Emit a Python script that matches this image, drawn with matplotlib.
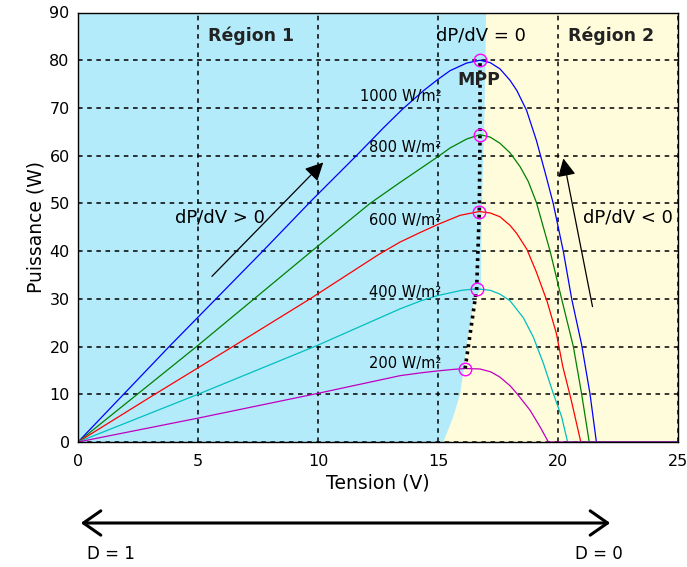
import matplotlib
matplotlib.use('Agg')
import matplotlib.pyplot as plt

# Courbes P(V) (V en volts, P en watts)
v_1000 = [0, 1.9, 3.8, 5.75, 7.7, 9.75, 11.6, 12.72, 13.49, 14.39, 15.0, 15.5, 16.19, 16.75, 17.17, 17.58, 18.0, 18.28, 18.69, 19.1, 19.51, 19.8, 20.22, 20.57, 20.98, 21.33, 21.6, 25]
p_1000 = [0, 10, 20, 30, 40, 50.7, 60, 65.8, 69.6, 73.6, 76.0, 77.8, 79.4, 80, 79.5, 78.2, 75.8, 73.7, 69.5, 63.2, 55.6, 50, 40, 30, 20.5, 10.2, 0, 0]

v_800 = [0, 4.94, 9.74, 12.17, 13.42, 14.3, 15.0, 15.5, 16.2, 16.75, 17.17, 17.58, 18.0, 18.42, 18.76, 19.1, 19.67, 20.15, 20.64, 20.98, 21.3, 25]
p_800 = [0, 20, 40, 50.0, 54.4, 57.4, 59.8, 61.6, 63.5, 64.4, 63.9, 62.6, 60.6, 57.7, 54.6, 50.2, 40, 30, 20, 10.2, 0, 0]

v_600 = [0, 3.2, 6.45, 9.67, 12.5, 13.42, 14.3, 15.0, 15.92, 16.72, 17.17, 17.58, 18.0, 18.28, 18.7, 19.1, 19.55, 19.93, 20.2, 20.55, 20.95, 25]
p_600 = [0, 10, 20, 30, 39.2, 41.9, 44.0, 45.6, 47.5, 48.3, 48.0, 47.2, 45.4, 43.7, 40.4, 35.6, 29.4, 22.8, 15.8, 8.8, 0, 0]

v_400 = [0, 5, 10, 13.42, 14.3, 15.0, 16.0, 16.61, 17.17, 17.58, 18.0, 18.56, 18.97, 19.39, 19.8, 20.15, 20.4, 25]
p_400 = [0, 10, 20.3, 27.9, 29.6, 30.7, 31.8, 32.1, 31.8, 31.0, 29.6, 26.0, 22.0, 16.5, 10.2, 5.3, 0, 0]

v_200 = [0, 5, 10, 13.42, 14.3, 15.0, 15.6, 16.13, 16.75, 17.2, 17.58, 18.0, 18.28, 18.83, 19.25, 19.6, 25]
p_200 = [0, 5, 10.2, 13.9, 14.5, 14.9, 15.2, 15.4, 15.3, 14.7, 13.6, 11.8, 10.2, 6.7, 3.2, 0, 0]

# Points de puissance maximale
mpp_v = [16.13, 16.61, 16.72, 16.75, 16.75]
mpp_p = [15.4, 32.1, 48.3, 64.4, 80]

# Frontiere de la zone bleue (region 1)
zone_v = [0, 0, 17.0, 16.98, 16.92, 16.82, 16.79, 16.5, 16.19, 16.08, 15.92, 15.64, 15.22]
zone_p = [0, 90, 90, 80, 64.4, 48, 32, 29.7, 20.3, 15.4, 10, 5.3, 0]

labels = ['1000 W/m²', '800 W/m²', '600 W/m²', '400 W/m²', '200 W/m²']
label_p = [72.5, 61.8, 46.5, 31.4, 16.5]

courbes = [(v_1000, p_1000, 'blue'), (v_800, p_800, 'green'), (v_600, p_600, 'red'),
           (v_400, p_400, (0, 0.75, 0.75)), (v_200, p_200, (0.75, 0, 0.75))]

plt.rcParams['font.family'] = 'DejaVu Sans'

fig = plt.figure(figsize=(6.87, 5.67), dpi=100)
ax = fig.add_axes([78 / 687, 1 - 442 / 567, 600 / 687, 429.5 / 567])

ax.set_facecolor('#FFFCDC')
ax.fill(zone_v, zone_p, color='#B4EBFA', lw=0, zorder=0)

for v, p, c in courbes:
    ax.plot(v, p, color=c, lw=0.9, zorder=2)

ax.plot(mpp_v, mpp_p, color='k', linestyle=(0, (0.8, 1.2)), lw=2.6, zorder=3)
ax.plot(mpp_v, mpp_p, 'o', mfc='none', mec='#FF00FF', ms=9, mew=1.0, zorder=4)

for lab, y in zip(labels, label_p):
    ax.text(15.15, y, lab, ha='right', va='center', fontsize=10.5)

ax.text(7.2, 85.2, 'Région 1', ha='center', va='center', fontsize=12.5, fontweight='bold', color='#222222')
ax.text(22.2, 85.2, 'Région 2', ha='center', va='center', fontsize=12.5, fontweight='bold', color='#222222')
ax.text(16.8, 85.2, 'dP/dV = 0', ha='center', va='center', fontsize=13)
ax.text(16.7, 75.8, 'MPP', ha='center', va='center', fontsize=12.5, fontweight='bold', color='#222222')
ax.text(5.9, 47.1, 'dP/dV > 0', ha='center', va='center', fontsize=13)
ax.text(22.9, 47.1, 'dP/dV < 0', ha='center', va='center', fontsize=13)

ax.annotate('', xy=(10.3, 59), xytext=(5.5, 34.3),
            arrowprops=dict(arrowstyle='-|>,head_length=0.5,head_width=0.25', color='k', lw=0.9, mutation_scale=22))
ax.annotate('', xy=(20.2, 60), xytext=(21.46, 27.8),
            arrowprops=dict(arrowstyle='-|>,head_length=0.5,head_width=0.25', color='k', lw=0.9, mutation_scale=22))

ax.set_xlim(0, 25)
ax.set_ylim(0, 90)
ax.set_xticks([0, 5, 10, 15, 20, 25])
ax.set_yticks(range(0, 100, 10))
ax.tick_params(length=0, labelsize=11.5)
ax.tick_params(axis='x', pad=9)
ax.tick_params(axis='y', pad=6)
ax.set_axisbelow(True)
ax.grid(color='k', linestyle=(0, (3, 3)), lw=1.1)
for s in ax.spines.values():
    s.set_linewidth(1.0)

ax.set_xlabel('Tension (V)', fontsize=13.5, labelpad=3)
ax.set_ylabel('Puissance (W)', fontsize=13.5, labelpad=3)

# fleche du rapport cyclique
fig.add_artist(matplotlib.patches.FancyArrowPatch((78, 44), (613, 44), transform=None,
               arrowstyle='<->,head_length=0.5,head_width=0.35', mutation_scale=25, lw=2.2, color='k'))
fig.text(87 / 687, 1 - 554 / 567, 'D = 1', ha='left', va='center', fontsize=12)
fig.text(575 / 687, 1 - 554 / 567, 'D = 0', ha='left', va='center', fontsize=12)

fig.savefig('out.png', dpi=100)
